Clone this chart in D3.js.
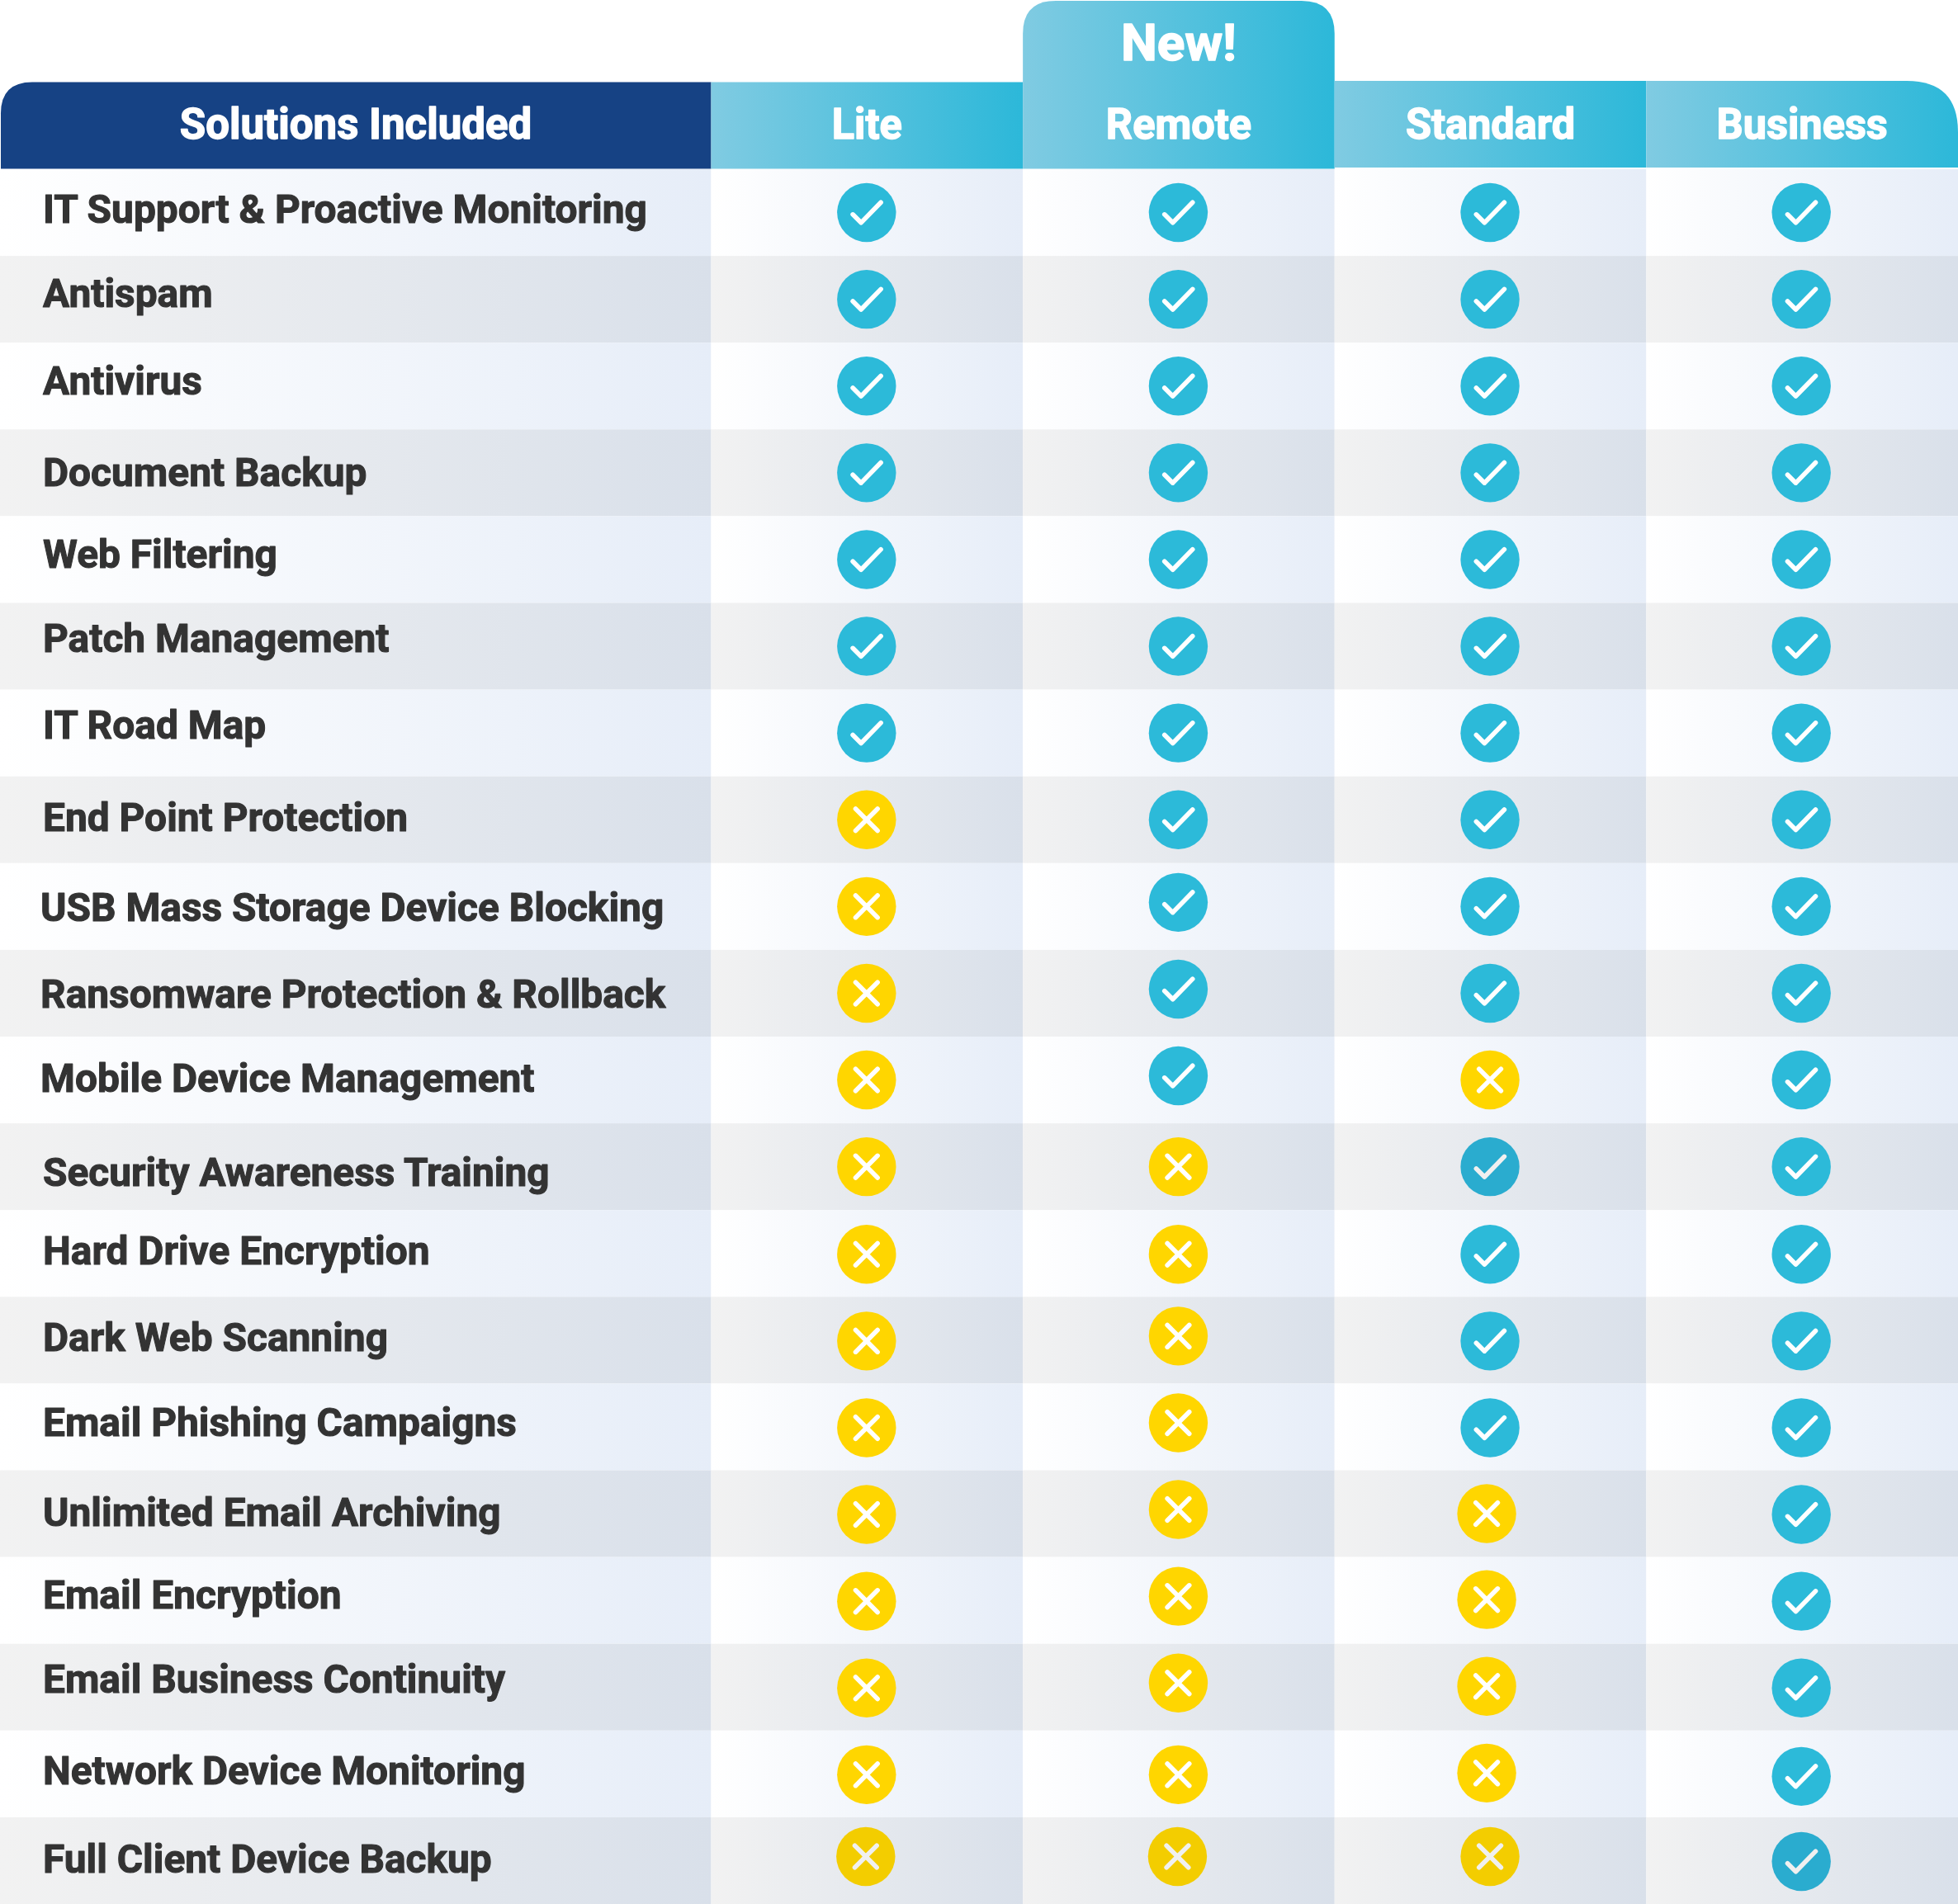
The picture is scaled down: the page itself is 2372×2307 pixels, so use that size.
<!DOCTYPE html>
<html><head><meta charset="utf-8">
<script src="https://cdn.jsdelivr.net/npm/d3@7/dist/d3.min.js"></script>
<style>html,body{margin:0;padding:0;background:#fff}svg{display:block}</style>
</head><body><div id="chart"></div>
<script>
const tableTitle = "Solutions Included";
const badge = "New!";
const plans = ["Lite","Remote","Standard","Business"];
const solutions = ["IT Support & Proactive Monitoring","Antispam","Antivirus","Document Backup","Web Filtering","Patch Management","IT Road Map","End Point Protection","USB Mass Storage Device Blocking","Ransomware Protection & Rollback","Mobile Device Management","Security Awareness Training","Hard Drive Encryption","Dark Web Scanning","Email Phishing Campaigns","Unlimited Email Archiving","Email Encryption","Email Business Continuity","Network Device Monitoring","Full Client Device Backup"];
const lite     = [1,1,1,1,1,1,1,0,0,0,0,0,0,0,0,0,0,0,0,0];
const remote   = [1,1,1,1,1,1,1,1,1,1,1,0,0,0,0,0,0,0,0,0];
const standard = [1,1,1,1,1,1,1,1,1,1,0,1,1,1,1,0,0,0,0,0];
const business = [1,1,1,1,1,1,1,1,1,1,1,1,1,1,1,1,1,1,1,1];
const included = {Lite:lite,Remote:remote,Standard:standard,Business:business};

// layout, kept apart from the data
const W=2372,H=2307,rowsTop=205,xSplit=861.5;
const labelBase=[12.5,9,10.5,16,10,7,7,13.5,18,17.5,14,23,13.5,13.5,11,15,10,6.4,12.3,15];
const labelX=i=>(i>=8&&i<=10)?49:52;
const nudge={Lite:{19:[-1,-5]},Remote:{8:[0,-5],9:[0,-5],10:[0,-5],13:[0,-5],14:[0,-5],15:[0,-5],16:[0,-5],17:[0,-5],19:[-1,-5]},
 Standard:{15:[-4,0],16:[-4,-1],17:[-4,-1],18:[-4,-1],19:[0,-5]},Business:{18:[0,3]}};
const colShift={Lite:-0.5,Remote:-0.5,Standard:-0.5,Business:-1};
const shaded=(p,i)=>i===19||(p==="Standard"&&i===11);

const x=d3.scaleBand().domain(plans).range([xSplit,W]);
const y=d3.scaleBand().domain(solutions).range([rowsTop,H]);
const svg=d3.select("#chart").append("svg").attr("width",W).attr("height",H).attr("viewBox",`0 0 ${W} ${H}`);
const defs=svg.append("defs");
function grad(id,a,b){const g=defs.append("linearGradient").attr("id",id);
 g.append("stop").attr("offset",0).attr("stop-color",a);g.append("stop").attr("offset",1).attr("stop-color",b);}
grad("rw","#ffffff","#e6edf8");grad("rg","#f2f2f2","#d9e0ea");grad("hd","#80cbe2","#2cb8d9");

// rows
solutions.forEach((s,i)=>{
 const fill=i%2?"url(#rg)":"url(#rw)";
 svg.append("rect").attr("x",0).attr("y",y(s)).attr("width",xSplit).attr("height",y.bandwidth()).attr("fill",fill);
 plans.forEach(p=>svg.append("rect").attr("x",x(p)).attr("y",y(s)).attr("width",x.bandwidth()).attr("height",y.bandwidth()).attr("fill",fill));
});

// headers
function roundTop(x0,x1,y0,y1,rl,rr){
 const p=d3.path();p.moveTo(x0,y1);p.lineTo(x0,y0+rl);
 if(rl)p.quadraticCurveTo(x0,y0,x0+rl,y0);else p.lineTo(x0,y0);
 p.lineTo(x1-rr,y0);if(rr)p.quadraticCurveTo(x1,y0,x1,y0+rr);p.lineTo(x1,y1);p.closePath();return p.toString();}
svg.append("path").attr("d",roundTop(1,xSplit,99.5,204.5,38,0)).attr("fill","#164284");
const hdrBox={Lite:[99.5,204.5,0,0],Remote:[1,204.5,40,40],Standard:[98,203,0,0],Business:[98,203,0,62]};
plans.forEach(p=>{const b=hdrBox[p];
 svg.append("path").attr("d",roundTop(x(p),x(p)+x.bandwidth(),b[0],b[1],b[2],b[3])).attr("fill","url(#hd)");});

// text
const font="Roboto, 'Noto Sans', sans-serif";
function txt(str,px,py,size,fill,anchor,sx,bold){
 return svg.append("text").attr("transform",`translate(${px},${py}) scale(${sx},1)`).attr("text-anchor",anchor)
  .attr("font-family",font).attr("font-weight",700).attr("font-size",size).attr("fill",fill)
  .attr("stroke",fill).attr("stroke-width",bold).attr("stroke-linejoin","round").text(str);}
txt(tableTitle,431,167.5,51,"#fff","middle",1.0,1.4);
plans.forEach(p=>txt(p,x(p)+x.bandwidth()/2,167.5,51,"#fff","middle",0.99,1.4));
txt(badge,x("Remote")+x.bandwidth()/2,72.5,61,"#fff","middle",1.02,1.4);

// labels
solutions.forEach((s,i)=>txt(s,labelX(i),y(s)+y.bandwidth()/2+labelBase[i],49,"#333333","start",0.977,1.1));

// marks
const r=35.7;
plans.forEach(p=>{included[p].forEach((v,i)=>{
 const n=(nudge[p]||{})[i]||[0,i>=12?1:0],s=solutions[i];
 const g=svg.append("g").attr("transform",`translate(${x(p)+x.bandwidth()/2+colShift[p]+n[0]},${y(s)+y.bandwidth()/2+n[1]})`);
 const dark=shaded(p,i);
 g.append("circle").attr("r",r).attr("fill",v?(dark?"#2aaccf":"#2cbad9"):(dark?"#f3cd00":"#ffd600"));
 const mark=d3.path();
 if(v){mark.moveTo(-16.7,2.3);mark.lineTo(-6.7,12.3);mark.lineTo(17.3,-12.3);}
 else{mark.moveTo(-13.3,-13.3);mark.lineTo(13.3,13.3);mark.moveTo(13.3,-13.3);mark.lineTo(-13.3,13.3);}
 g.append("path").attr("d",mark.toString()).attr("fill","none").attr("stroke",dark?"#f0f0f0":"#fff")
  .attr("stroke-width",5.6).attr("stroke-linecap","round").attr("stroke-linejoin","round");
});});
</script></body></html>
